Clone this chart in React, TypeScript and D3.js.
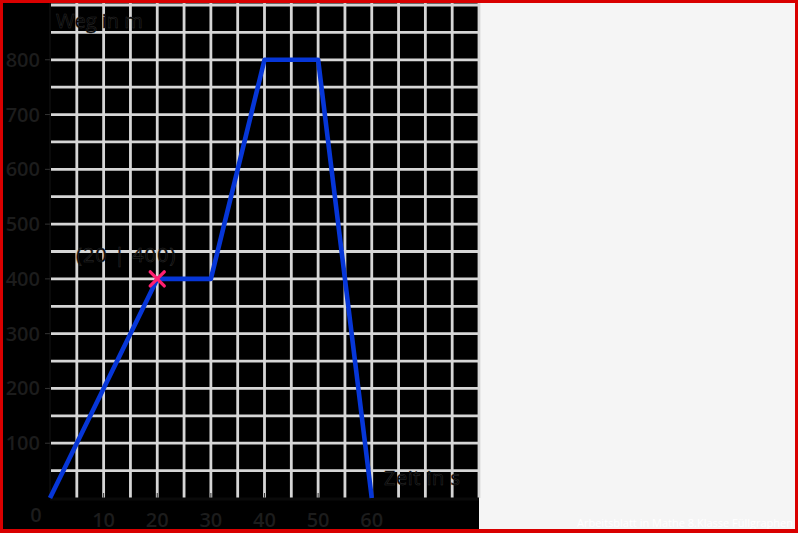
import React from "react";
import * as d3 from "d3";

const timeValues = [0, 20, 30, 40, 50, 60];
const distValues = [0, 400, 400, 800, 800, 0];
const xTicks = [10, 20, 30, 40, 50, 60];
const yTicks = [100, 200, 300, 400, 500, 600, 700, 800];
const pointLabel = "(20 | 400)";
const pointIndex = 1;
const xTitle = "Zeit in s";
const yTitle = "Weg in m";
const watermark = "Arbeitsblatt in Mathe 8.Klasse Füllgraphen";

const W = 798;
const H = 533;

export default function App() {
  const x = d3.scaleLinear().domain([0, 80]).range([50, 479]);
  const y = d3.scaleLinear().domain([0, 900]).range([498, 5]);
  const vGrid = d3.range(5, 81, 5);
  const hGrid = d3.range(50, 901, 50);
  const pts: [number, number][] = timeValues.map((t, i) => [t, distValues[i]]);
  const line = d3.line<[number, number]>().x((d) => x(d[0])).y((d) => y(d[1]));
  const px = x(timeValues[pointIndex]);
  const py = y(distValues[pointIndex]);
  const font = "'Open Sans', 'Noto Sans', sans-serif";
  return (
    <svg
      width={W}
      height={H}
      style={{ position: "absolute", left: 0, top: 0, display: "block" }}
    >
      <rect x={0} y={0} width={W} height={H} fill="#f5f5f5" />
      <rect x={0} y={0} width={479} height={H} fill="#000" />
      {vGrid.map((v) => (
        <line key={"v" + v} x1={x(v)} x2={x(v)} y1={y(900) - 2} y2={y(0)} stroke="#d6d6d6" strokeWidth={2.8} />
      ))}
      {hGrid.map((v) => (
        <line key={"h" + v} x1={x(0)} x2={x(80)} y1={y(v)} y2={y(v)} stroke="#d6d6d6" strokeWidth={2.8} />
      ))}
      <line x1={x(0)} x2={x(0)} y1={y(900) - 2} y2={y(0)} stroke="#0a0a0a" strokeWidth={2} />
      <line x1={x(0)} x2={x(80)} y1={y(0) + 1} y2={y(0) + 1} stroke="#0a0a0a" strokeWidth={3} />
      {yTicks.map((v) => (
        <g key={"yt" + v}>
          <line x1={x(0) - 5} x2={x(0)} y1={y(v)} y2={y(v)} stroke="#333" strokeWidth={1} />
          <text x={40} y={y(v) + 7} textAnchor="end" fontSize={20} fontWeight={600} fontFamily={font} fill="#1c1c1c">
            {v}
          </text>
        </g>
      ))}
      {xTicks.map((v) => (
        <g key={"xt" + v}>
          <line x1={x(v)} x2={x(v)} y1={y(0) - 5} y2={y(0)} stroke="#333" strokeWidth={1} />
          <text x={x(v)} y={527} textAnchor="middle" fontSize={20} fontWeight={600} fontFamily={font} fill="#1c1c1c">
            {v}
          </text>
        </g>
      ))}
      <text x={36} y={522} textAnchor="middle" fontSize={20} fontWeight={600} fontFamily={font} fill="#1c1c1c">
        0
      </text>
      <path d={line(pts) || ""} fill="none" stroke="#0636d8" strokeWidth={4.6} strokeLinejoin="round" />
      <g stroke="#ff1f70" strokeWidth={3.4} strokeLinecap="round">
        <line x1={px - 7} x2={px + 7} y1={py - 7} y2={py + 7} />
        <line x1={px - 7} x2={px + 7} y1={py + 7} y2={py - 7} />
      </g>
      <text x={76} y={262} fontSize={20} letterSpacing={1} fontFamily={font} fill="#000" stroke="#2e2e2e" strokeWidth={0.5}>
        {pointLabel}
      </text>
      <text x={384} y={485} fontSize={20} letterSpacing={0.5} fontFamily={font} fill="#000" stroke="#2e2e2e" strokeWidth={0.5}>
        {xTitle}
      </text>
      <text x={56} y={28} fontSize={20} fontFamily={font} fill="#000" stroke="#2e2e2e" strokeWidth={0.5}>
        {yTitle}
      </text>
      <text x={793} y={527} textAnchor="end" fontSize={11} fontFamily={font} fill="#ffffff">
        {watermark}
      </text>
      <rect x={1.5} y={1.5} width={W - 3} height={H - 3} fill="none" stroke="#d90000" strokeWidth={3} />
      <rect x={0} y={H - 4} width={W} height={4} fill="#d90000" />
    </svg>
  );
}
